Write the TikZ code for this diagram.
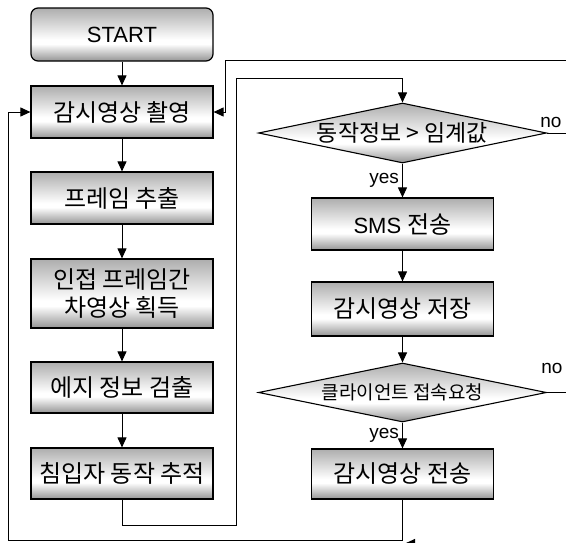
\documentclass[tikz,border=0pt]{standalone}
\usepackage{fontspec}
\setmainfont{Liberation Sans}
\newfontfamily\kr{Noto Sans CJK KR}
\usetikzlibrary{shapes.geometric,arrows.meta}
\pgfdeclareverticalshading{boxshade}{100bp}{color(0bp)=(black!42); color(25bp)=(black!42); color(41bp)=(white); color(45bp)=(white); color(75bp)=(black!32); color(100bp)=(black!32)}
\tikzset{
  box/.style={draw, line width=1.2pt, rectangle, minimum width=182pt, minimum height=52pt,
    inner sep=0pt, shade, shading=boxshade, font=\fontsize{22}{28}\selectfont, align=center},
  kbox/.style={box, font=\kr\fontsize{24}{28}\selectfont},
  dec/.style={draw, line width=1.1pt, diamond, shape aspect=4.8, minimum width=288pt,
    minimum height=60pt, inner sep=0pt, shade, shading=boxshade},
  conn/.style={line width=1pt},
  arr/.style={line width=1pt, -{Triangle[length=10pt,width=9pt]}},
  lbl/.style={font=\fontsize{19}{19}\selectfont, inner sep=0pt}
}
\begin{document}
\begin{tikzpicture}[x=1pt,y=-1pt]
\useasboundingbox (0,0) rectangle (566,542);
% left column
\node[box, rounded corners=7pt, minimum height=53pt] (start) at (122,34.5) {START};
\node[kbox] (cap) at (122,112) {감시영상 촬영};
\node[kbox] (frm) at (122,198) {프레임 추출};
\node[kbox, minimum height=69pt] (diff) at (122,293.5) {인접 프레임간\\차영상 획득};
\node[kbox, minimum height=51pt] (edg) at (122,387.5) {에지 정보 검출};
\node[kbox, minimum height=51pt] (trk) at (122,473.5) {침입자 동작 추적};
% right column
\node[dec, font=\kr\fontsize{23}{23}\selectfont] (d1) at (402.5,133) {동작정보 > 임계값};
\node[box] (sms) at (402.5,224) {SMS {\kr\fontsize{24}{28}\selectfont 전송}};
\node[kbox, minimum height=54pt] (sav) at (402.5,309) {감시영상 저장};
\node[dec, font=\kr\fontsize{19}{19}\selectfont, minimum height=59pt] (d2) at (402.5,392.5) {클라이언트 접속요청};
\node[kbox, minimum height=50pt] (snd) at (402.5,474) {감시영상 전송};
% labels
\node[lbl] (no1) at (551,122) {no};
\node[lbl] (no2) at (552,368) {no};
% free ends
\coordinate (e0) at (566,60.5);
\coordinate (e1) at (566,133);
\coordinate (e2) at (566,392.5);
\coordinate (e3) at (440,543.5);
\coordinate (m3) at (405,543.5);
% connectors
\draw[arr] (start) -- (cap);
\draw[arr] (cap) -- (frm);
\draw[arr] (frm) -- (diff);
\draw[arr] (diff) -- (edg);
\draw[arr] (edg) -- (trk);
\draw[arr] (trk.south) -- ++(0,26) -| (236,78) -| (d1.north);
\draw[arr] (d1.south) -- node[lbl, left=3pt]{yes} (sms.north);
\draw[arr] (sms) -- (sav);
\draw[arr] (sav) -- (d2);
\draw[arr] (d2.south) -- node[lbl, left=3pt]{yes} (snd.north);
\draw[arr] (snd.south) |- (8,540) |- (cap.west);
\draw[arr] (e0) -| (225,112) -- (cap.east);
\draw[conn] (d1.east) -- (e1);
\draw[conn] (d2.east) -- (e2);
\draw[arr] (e3) -- (m3);
\end{tikzpicture}
\end{document}
